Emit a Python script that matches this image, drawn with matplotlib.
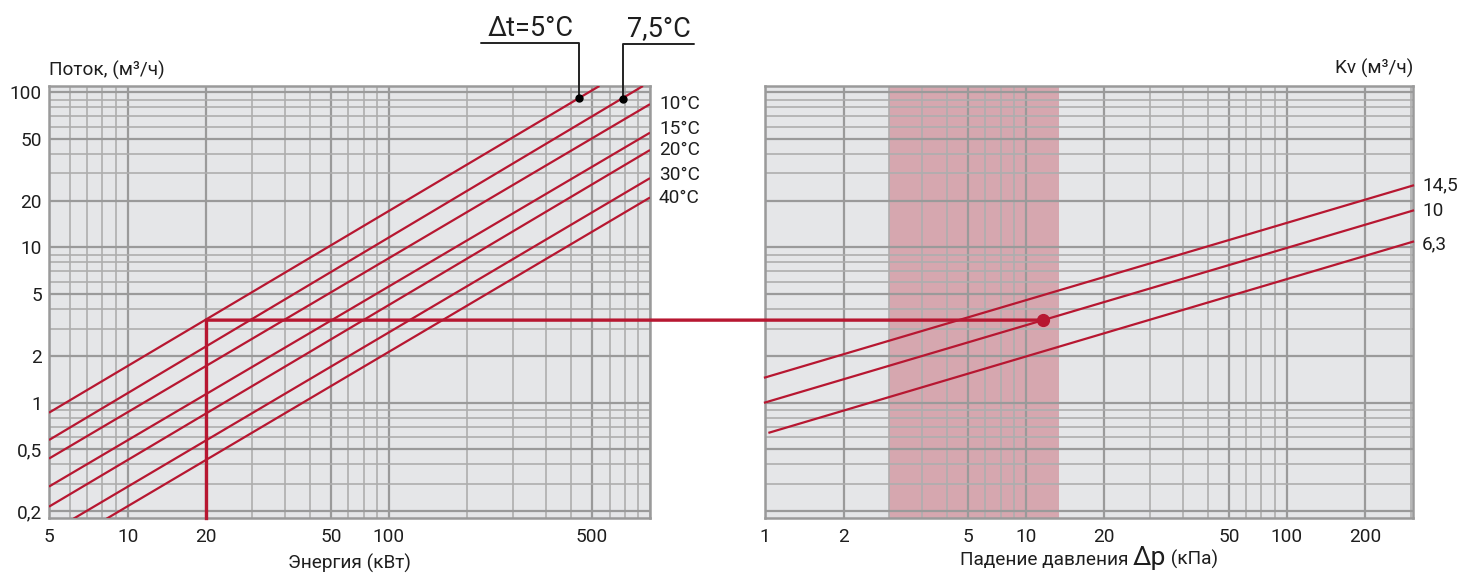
import numpy as np
import matplotlib
matplotlib.use('Agg')
import matplotlib.pyplot as plt
from matplotlib.ticker import FixedLocator, FixedFormatter, LogLocator, NullFormatter
from matplotlib.patches import ConnectionPatch
from matplotlib.offsetbox import TextArea, HPacker, AnchoredOffsetbox

plt.rcParams['font.family'] = ['Roboto', 'DejaVu Sans']

# ---------------- data: left chart (energy -> flow) ----------------
power_ticks = [5, 10, 20, 60, 100, 600]
power_labels = ['5', '10', '20', '50', '100', '500']
flow_ticks = [0.2, 0.5, 1, 2, 5, 10, 20, 50, 100]
flow_labels = ['0,2', '0,5', '1', '2', '5', '10', '20', '50', '100']
power_lim = [5, 1000]
flow_lim = [0.18, 110]

dt_labels = ['Δt=5°C', '7,5°C', '10°C', '15°C', '20°C', '30°C', '40°C']
dt_power_start = [5, 5, 5, 5, 5, 6.2, 8.3]
dt_power_end = [640, 940, 1000, 1000, 1000, 1000, 1000]
dt_flow_start = [0.86, 0.573, 0.435, 0.287, 0.213, 0.178, 0.178]
dt_flow_end = [110, 110, 84, 55, 42.5, 28, 21]

marker_power = [537, 789]
marker_flow = [91.5, 90.5]

sel_power = 20
sel_flow = 3.4

# ---------------- data: right chart (pressure drop -> flow) ----------------
dp_ticks = [1, 2, 6, 10, 20, 60, 100, 200]
dp_labels = ['1', '2', '5', '10', '20', '50', '100', '200']
dp_lim = [1, 305]

kv_labels = ['14,5', '10', '6,3']
kv_dp_start = [1, 1, 1.04]
kv_dp_end = [305, 305, 305]
kv_flow_start = [1.45, 1.0, 0.64]
kv_flow_end = [25.1, 17.3, 10.9]

band_dp = [3, 13.4]
sel_dp = 11.6

# ---------------- style ----------------
RED = '#B71731'
PINK = '#D6A7AF'
BG = '#E5E6E8'
GRID_MAJ = '#9A9A9A'
GRID_MIN = '#AEAEAE'
TXT = '#1E1E1E'
FS = 13.7

W, H = 1461, 573
fig = plt.figure(figsize=(W / 100, H / 100), dpi=100)
fig.patch.set_facecolor('white')

ax1 = fig.add_axes([49 / W, 55 / H, 601 / W, 432 / H])
ax2 = fig.add_axes([765 / W, 55 / H, 648 / W, 432 / H])


def style_axes(ax, xlim, xticks, xlabels, show_y):
    ax.set_xscale('log')
    ax.set_yscale('log')
    ax.set_xlim(*xlim)
    ax.set_ylim(*flow_lim)
    ax.set_facecolor(BG)
    ax.xaxis.set_major_locator(FixedLocator(xticks))
    ax.xaxis.set_major_formatter(FixedFormatter(xlabels))
    ax.xaxis.set_minor_locator(LogLocator(base=10, subs=np.arange(1, 10), numticks=50))
    ax.xaxis.set_minor_formatter(NullFormatter())
    ax.yaxis.set_major_locator(FixedLocator(flow_ticks))
    ax.yaxis.set_minor_locator(LogLocator(base=10, subs=np.arange(1, 10), numticks=50))
    ax.yaxis.set_minor_formatter(NullFormatter())
    if show_y:
        ax.yaxis.set_major_formatter(FixedFormatter(flow_labels))
    else:
        ax.yaxis.set_major_formatter(NullFormatter())
    ax.tick_params(which='both', length=0)
    ax.tick_params(axis='x', which='major', pad=7, labelsize=FS, labelcolor=TXT)
    ax.tick_params(axis='y', which='major', pad=5, labelsize=FS, labelcolor=TXT)
    ax.set_axisbelow(True)
    ax.grid(which='major', color=GRID_MAJ, lw=1.6)
    ax.grid(which='minor', color=GRID_MIN, lw=1.2)
    for s in ax.spines.values():
        s.set_color(GRID_MAJ)
        s.set_linewidth(1.8)


style_axes(ax1, power_lim, power_ticks, power_labels, True)
style_axes(ax2, dp_lim, dp_ticks, dp_labels, False)

# ---------------- left chart lines ----------------
for i in range(len(dt_labels)):
    ax1.plot([dt_power_start[i], dt_power_end[i]], [dt_flow_start[i], dt_flow_end[i]],
             color=RED, lw=1.6, zorder=3, solid_capstyle='butt')

label_dy = [0, 0, 0, 3, 0, 2, 0]
for i in range(2, len(dt_labels)):
    ax1.annotate(dt_labels[i], xy=(dt_power_end[i], dt_flow_end[i]),
                 xytext=(6.5, label_dy[i]), textcoords='offset points',
                 ha='left', va='center', fontsize=FS, color=TXT, annotation_clip=False)

# top leader annotations
leader_dx = [-71, 51]
text_dx = [-35, 26]
for i in range(2):
    ax1.plot(marker_power[i], marker_flow[i], 'o', color='black', ms=5, zorder=5)
    ax1.annotate('', xy=(marker_power[i], marker_flow[i]),
                 xytext=(leader_dx[i], 40), textcoords='offset points',
                 arrowprops=dict(arrowstyle='-', connectionstyle='angle,angleA=0,angleB=90,rad=0',
                                 shrinkA=0, shrinkB=0, color='#222222', lw=1.4),
                 annotation_clip=False)
    ax1.annotate(dt_labels[i], xy=(marker_power[i], marker_flow[i]),
                 xytext=(text_dx[i], 45), textcoords='offset points',
                 ha='center', va='baseline', fontsize=19.5, color=TXT, annotation_clip=False)

# selection lines
ax1.plot([sel_power, sel_power], [flow_lim[0], sel_flow], color=RED, lw=2.4, zorder=4,
         solid_capstyle='projecting', clip_on=False)
con = ConnectionPatch(xyA=(sel_power, sel_flow), coordsA=ax1.transData,
                      xyB=(sel_dp, sel_flow), coordsB=ax2.transData,
                      color=RED, lw=2.4, zorder=4)
fig.add_artist(con)

# ---------------- right chart ----------------
ax2.axvspan(band_dp[0], band_dp[1], color=PINK, zorder=0.2, lw=0)
for i in range(len(kv_labels)):
    ax2.plot([kv_dp_start[i], kv_dp_end[i]], [kv_flow_start[i], kv_flow_end[i]],
             color=RED, lw=1.6, zorder=3, clip_on=False)
kv_dy = [0, 0, -2]
for i in range(len(kv_labels)):
    ax2.annotate(kv_labels[i], xy=(kv_dp_end[i], kv_flow_end[i]),
                 xytext=(6.5, kv_dy[i]), textcoords='offset points',
                 ha='left', va='center', fontsize=FS, color=TXT, annotation_clip=False)

ax2.plot(sel_dp, sel_flow, 'o', color=RED, ms=8.5, zorder=6, clip_on=False)

# ---------------- axis titles ----------------
ax1.text(0, 1 + 16 / 432, 'Поток, (м³/ч)', transform=ax1.transAxes,
         ha='left', va='center', fontsize=FS, color=TXT)
ax2.text(1, 1 + 18 / 432, 'Kv (м³/ч)', transform=ax2.transAxes,
         ha='right', va='center', fontsize=FS, color=TXT)

ax1.text(0.5, -45 / 432, 'Энергия (кВт)', transform=ax1.transAxes,
         ha='center', va='center', fontsize=FS, color=TXT)

parts = [TextArea('Падение давления ', textprops=dict(fontsize=FS, color=TXT)),
         TextArea('Δp', textprops=dict(fontsize=19, color=TXT)),
         TextArea(' (кПа)', textprops=dict(fontsize=FS, color=TXT))]
box = HPacker(children=parts, align='baseline', pad=0, sep=0)
anch = AnchoredOffsetbox(loc='center', child=box, pad=0, borderpad=0, frameon=False,
                         bbox_to_anchor=(0.5, -40 / 432), bbox_transform=ax2.transAxes)
ax2.add_artist(anch)

fig.savefig('out.png', dpi=100, facecolor='white')
